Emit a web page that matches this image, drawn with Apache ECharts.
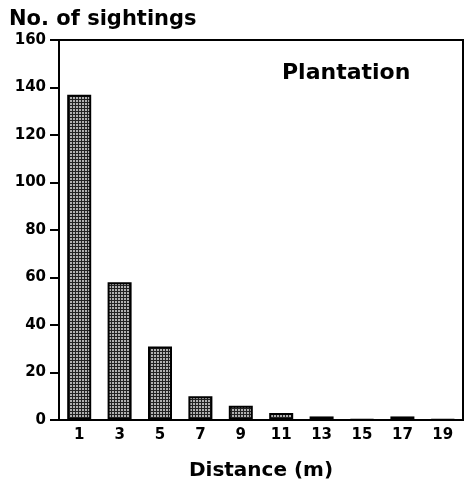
<!DOCTYPE html>
<html>
<head>
<meta charset="utf-8">
<script src="https://cdn.jsdelivr.net/npm/echarts@6/dist/echarts.min.js"></script>
<style>
  html, body { margin: 0; padding: 0; background: #fff; }
  #chart { width: 467px; height: 485px; }
</style>
</head>
<body>
<div id="chart"></div>
<script>
// distance classes (m) and number of sightings
const distances = ['1', '3', '5', '7', '9', '11', '13', '15', '17', '19']
const sightings = [137, 58, 31, 10, 6, 3, 1.5, 0.3, 1.5, 0.3]
const yTicks = [0, 20, 40, 60, 80, 100, 120, 140, 160]

// stippled fill like the printed bars
const pat = document.createElement('canvas')
pat.width = 3
pat.height = 3
const pctx = pat.getContext('2d')
pctx.fillStyle = '#b0b0b0'
pctx.fillRect(0, 0, 3, 3)
pctx.fillStyle = '#222'
pctx.fillRect(0, 0, 3, 1)
pctx.fillRect(0, 0, 1, 3)

const font = '"DejaVu Sans", "Liberation Sans", Arial, sans-serif'
const chart = echarts.init(document.getElementById('chart'))

chart.setOption({
  animation: false,
  title: [
    {
      text: 'No. of sightings',
      left: 4,
      top: 4,
      textStyle: { fontFamily: font, fontSize: 21, fontWeight: 'bold', color: '#000' }
    },
    {
      text: 'Plantation',
      left: 277,
      top: 57,
      textStyle: { fontFamily: font, fontSize: 22, fontWeight: 'bold', color: '#000' }
    }
  ],
  grid: {
    left: 59,
    right: 4,
    top: 40,
    bottom: 65,
    outerBoundsMode: 'none',
    containLabel: false,
    show: true,
    borderColor: '#000',
    borderWidth: 2
  },
  xAxis: {
    type: 'category',
    data: distances,
    name: 'Distance (m)',
    nameLocation: 'middle',
    nameGap: 41,
    nameTextStyle: { fontFamily: font, fontSize: 20, fontWeight: 'bold', color: '#000' },
    axisLine: { lineStyle: { color: '#000', width: 2 } },
    axisTick: { alignWithLabel: true, length: 7, lineStyle: { color: '#000', width: 2 } },
    axisLabel: { fontFamily: font, fontSize: 15, fontWeight: 'bold', color: '#000', margin: 8 },
    splitLine: { show: false }
  },
  yAxis: {
    type: 'value',
    min: 0,
    max: 160,
    interval: 20,
    axisLine: { show: true, lineStyle: { color: '#000', width: 2 } },
    axisTick: { show: true, length: 9, lineStyle: { color: '#000', width: 2 } },
    axisLabel: {
      fontFamily: font, fontSize: 15, fontWeight: 'bold', color: '#000', margin: 13,
      formatter: v => yTicks.includes(v) ? String(v) : ''
    },
    splitLine: { show: false }
  },
  series: [
    {
      type: 'bar',
      data: sightings,
      barWidth: 24,
      itemStyle: {
        color: { image: pat, repeat: 'repeat' },
        borderColor: '#000',
        borderWidth: 2
      }
    }
  ]
})
</script>
</body>
</html>
